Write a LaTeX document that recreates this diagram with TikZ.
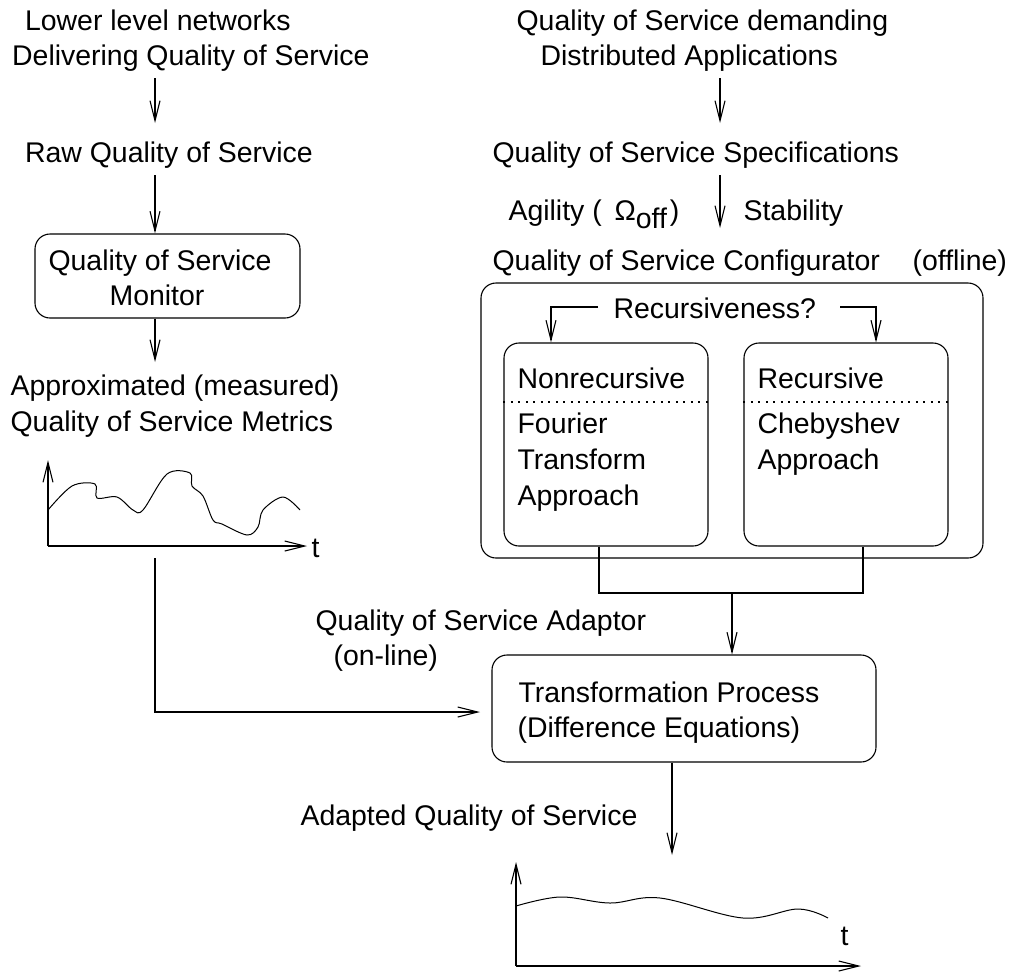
\documentclass[tikz,border=0pt]{standalone}
\usepackage{fontspec}
\setmainfont{Liberation Sans}
\usetikzlibrary{arrows.meta}
\begin{document}
\begin{tikzpicture}[x=1pt,y=-1pt,line width=1.1pt,
  lbl/.style={anchor=base west,inner sep=0pt,font=\fontsize{28.45}{35}\selectfont},
  clbl/.style={anchor=base,inner sep=0pt,font=\fontsize{28.45}{35}\selectfont},
  arr/.style={-{Straight Barb[length=20pt,width=10pt,line width=1.1pt]}},
  rbox/.style={draw,rounded corners=15pt,inner sep=0pt},
  dots/.style={line width=1.2pt,dash pattern=on 2pt off 5.5pt}
]
\useasboundingbox (0,0) rectangle (1011,975);

% ---------- left column ----------
\node[lbl] (lower) at (24.5,30) {Lower level networks};
\node[lbl] (deliv) at (11.6,65) {Delivering Quality of Service};
\coordinate (a1s) at (155,78);
\coordinate (a1e) at (155,123);
\draw[arr] (a1s) -- (a1e);
\node[lbl] (raw) at (24.5,162) {Raw Quality of Service};
\coordinate (a2s) at (155,175);
\node[rbox,minimum width=265pt,minimum height=84pt] (mon) at (167.5,276) {};
\draw[arr] (a2s) -- (mon.north -| a2s);
\node[clbl] (mon1) at (160,270) {Quality of Service};
\node[clbl] (mon2) at (157,305) {Monitor};
\coordinate (a3e) at (155,362);
\draw[arr] (mon.south -| a3e) -- (a3e);
\node[lbl] (approx) at (10,395) {Approximated (measured)};
\node[lbl] (metr) at (10,431) {Quality of Service Metrics};

% graph 1
\coordinate (g1o) at (48,546);
\coordinate (g1y) at (48,460);
\coordinate (g1x) at (307,546);
\draw[arr] (g1o) -- (g1y);
\draw[arr] (g1o) -- (g1x);
\node[lbl] (t1) at (311,557) {t};
\draw[line width=1pt] plot[smooth,tension=0.55] coordinates {(48,510) (72,486) (95,484) (97,498) (117,497) (133,510) (143,510) (167,474) (190,473) (192,486) (203,496) (213,520) (222,524) (247,535) (258,527) (263,510) (283,497) (300,510)};

% ---------- right column ----------
\node[lbl] (qsd) at (516,30) {Quality of Service demanding};
\node[lbl] (dist) at (540,65) {Distributed Applications};
\coordinate (b1s) at (720,78);
\coordinate (b1e) at (720,123);
\draw[arr] (b1s) -- (b1e);
\node[lbl] (spec) at (492,162) {Quality of Service Specifications};
\coordinate (b2s) at (720,175);
\coordinate (b2e) at (720,228);
\draw[arr] (b2s) -- (b2e);
\node[lbl] (agil) at (508,220) {Agility (\hspace{0.45em}Ω\raisebox{-8pt}{off}\hspace{0.1em})};
\node[lbl] (stab) at (743,220) {Stability};
\node[lbl] (conf) at (492,270) {Quality of Service Configurator};
\node[lbl] (offl) at (912,270) {(offline)};

\node[rbox,minimum width=502pt,minimum height=275pt] (cfg) at (732,420.5) {};
\node[lbl] (rec) at (613,318) {Recursiveness?};
\node[rbox,minimum width=204pt,minimum height=203pt] (inl) at (606,444.5) {};
\node[rbox,minimum width=204pt,minimum height=203pt] (inr) at (846,444.5) {};
\coordinate (rl) at (598,307);
\coordinate (rr) at (840,307);
\coordinate (rlx) at (551,307);
\coordinate (rrx) at (876,307);
\draw[arr] (rl) -- (rlx) -- (inl.north -| rlx);
\draw[arr] (rr) -- (rrx) -- (inr.north -| rrx);
\draw[dots] (inl.west |- 0,402) -- (inl.east |- 0,402);
\draw[dots] (inr.west |- 0,402) -- (inr.east |- 0,402);
\node[lbl] (nrec) at (517,388) {Nonrecursive};
\node[lbl] (four) at (517,433) {Fourier};
\node[lbl] (trans) at (517,469) {Transform};
\node[lbl] (appl) at (517,505) {Approach};
\node[lbl] (recu) at (757,388) {Recursive};
\node[lbl] (cheb) at (757,433) {Chebyshev};
\node[lbl] (appr) at (757,469) {Approach};

\coordinate (jl) at (599,593);
\coordinate (jr) at (863,593);
\coordinate (jm) at (732,593);
\draw (inl.south -| jl) -- (jl) -- (jr) -- (inr.south -| jr);

\node[rbox,minimum width=384pt,minimum height=107pt] (tp) at (684,708.5) {};
\draw[arr] (jm) -- (tp.north -| jm);
\node[lbl] (tp1) at (518,702) {Transformation Process};
\node[lbl] (tp2) at (517,737) {(Difference Equations)};
\node[lbl] (adap) at (315,630) {Quality of Service Adaptor};
\node[lbl] (onl) at (333,665) {(on-line)};

% feed from graph 1 into transformation
\coordinate (g1d) at (155,558);
\coordinate (tin) at (480,712);
\draw[arr] (g1d) |- (tin);

% output
\coordinate (c1e) at (672,855);
\draw[arr] (tp.south -| c1e) -- (c1e);
\node[lbl] (adq) at (300,825) {Adapted Quality of Service};

% graph 2
\coordinate (g2o) at (516,966);
\coordinate (g2y) at (516,862);
\coordinate (g2x) at (861,966);
\draw[arr] (g2o) -- (g2y);
\draw[arr] (g2o) -- (g2x);
\node[lbl] (t2) at (840,945) {t};
\draw[line width=1pt] plot[smooth,tension=0.6] coordinates {(516,906) (560,897) (610,903) (660,898) (743,918) (798,909) (828,918)};
\end{tikzpicture}
\end{document}
